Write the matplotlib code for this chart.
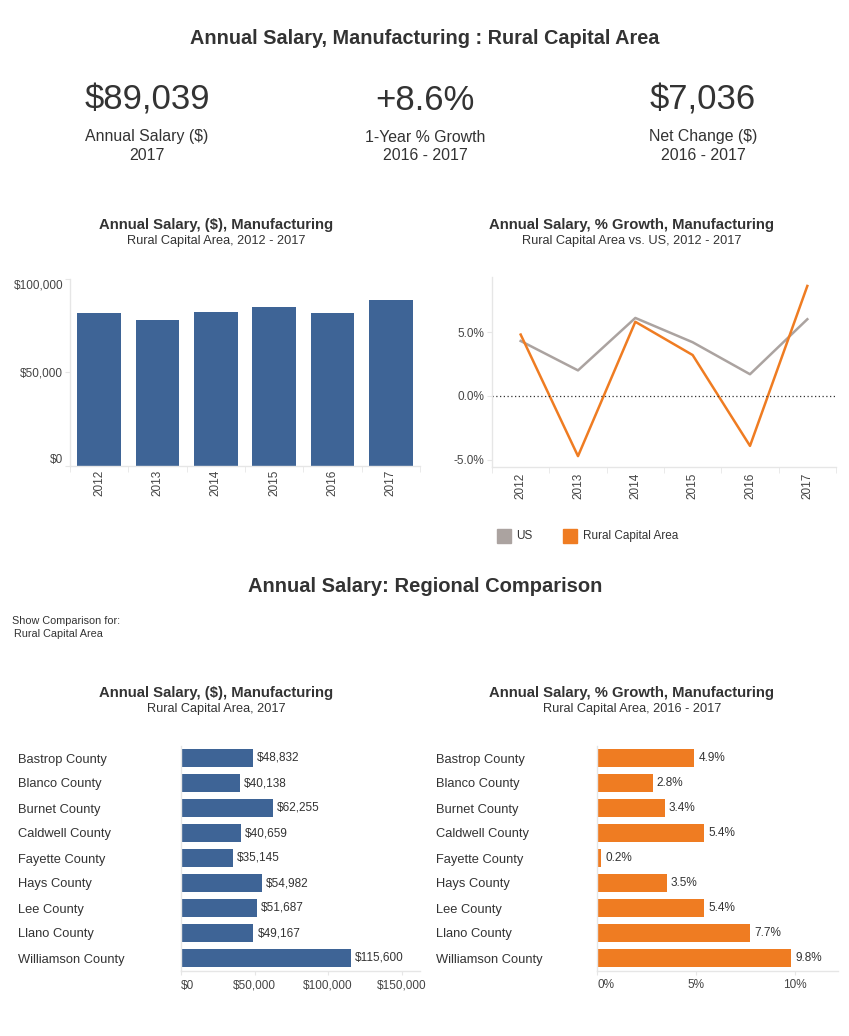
import matplotlib
matplotlib.use('Agg')
import matplotlib.pyplot as plt
from matplotlib.patches import Rectangle

W, H = 849, 1036
plt.rcParams['font.family'] = ['Liberation Sans', 'DejaVu Sans']

# ---------------- data ----------------
years = ['2012', '2013', '2014', '2015', '2016', '2017']
salary = [82006, 78152, 82685, 85331, 82003, 89039]
us_growth = [4.3, 2.0, 6.1, 4.2, 1.7, 6.0]
rca_growth = [4.8, -4.7, 5.8, 3.2, -3.9, 8.6]

counties = ['Bastrop County', 'Blanco County', 'Burnet County', 'Caldwell County',
            'Fayette County', 'Hays County', 'Lee County', 'Llano County',
            'Williamson County']
county_salary = [48832, 40138, 62255, 40659, 35145, 54982, 51687, 49167, 115600]
county_growth = [4.9, 2.8, 3.4, 5.4, 0.2, 3.5, 5.4, 7.7, 9.8]

kpi_values = ['$89,039', '+8.6%', '$7,036']
kpi_labels = ['Annual Salary ($)', '1-Year % Growth', 'Net Change ($)']
kpi_periods = ['2017', '2016 - 2017', '2016 - 2017']

salary_ticks = [0, 50000, 100000]
growth_ticks = [-5, 0, 5]
county_salary_ticks = [0, 50000, 100000, 150000]
county_growth_ticks = [0, 5, 10]

# ---------------- style ----------------
BLUE = '#3e6496'
ORANGE = '#ef7c22'
GRAY = '#aba3a0'
TXT = '#333333'
TICK = '#444444'
SPINE = '#e6e6e6'
PX = 72 / 100  # points per pixel

fig = plt.figure(figsize=(W / 100, H / 100), dpi=100)

overlay = fig.add_axes([0, 0, 1, 1])
overlay.set_xlim(0, W)
overlay.set_ylim(H, 0)
overlay.axis('off')
overlay.set_facecolor('none')


def add_ax(x0, y0, x1, y1):
    return fig.add_axes([x0 / W, 1 - y1 / H, (x1 - x0) / W, (y1 - y0) / H])


def style(ax):
    for s in ['top', 'right']:
        ax.spines[s].set_visible(False)
    for s in ['left', 'bottom']:
        ax.spines[s].set_color(SPINE)
        ax.spines[s].set_linewidth(1.0)
    ax.tick_params(colors=SPINE, labelcolor=TICK, labelsize=8.5)


# ---------------- titles / KPIs ----------------
overlay.text(425, 38, 'Annual Salary, Manufacturing : Rural Capital Area', ha='center',
             va='center', fontsize=14.3, fontweight='bold', color=TXT)
kpi_x = [147, 425, 703]
for xk, v, l, p in zip(kpi_x, kpi_values, kpi_labels, kpi_periods):
    overlay.text(xk, 100, v, ha='center', va='center', fontsize=25, color=TXT)
    overlay.text(xk, 137, l, ha='center', va='center', fontsize=11.4, color=TXT)
    overlay.text(xk, 155, p, ha='center', va='center', fontsize=11.4, color=TXT)


def chart_title(xc, y, title, sub):
    overlay.text(xc, y, title, ha='center', va='center', fontsize=10.7,
                 fontweight='bold', color=TXT)
    overlay.text(xc, y + 16, sub, ha='center', va='center', fontsize=9.2, color=TXT)


chart_title(216, 225, 'Annual Salary, ($), Manufacturing', 'Rural Capital Area, 2012 - 2017')
chart_title(632, 225, 'Annual Salary, % Growth, Manufacturing',
            'Rural Capital Area vs. US, 2012 - 2017')

# ---------------- top bar chart ----------------
ax1 = add_ax(70, 279.3, 420, 465.7)
style(ax1)
xs = list(range(len(years)))
ax1.bar(xs, salary, width=0.75, color=BLUE)
ax1.set_xlim(-0.5, 5.5)
ax1.set_ylim(0, 100000)
ax1.set_yticks(salary_ticks, ['${:,.0f}'.format(t) for t in salary_ticks])
ylabs = ax1.get_yticklabels()
ylabs[0].set_va('bottom')
ylabs[-1].set_va('top')
ax1.set_xticks(xs, years, rotation=90, va='top')
ax1.set_xticks([i - 0.5 for i in range(7)], minor=True)
ax1.tick_params(axis='x', which='major', length=0, pad=3)
ax1.tick_params(axis='x', which='minor', length=4, color=SPINE)
ax1.tick_params(axis='y', length=5 * PX, pad=2 * PX)

# ---------------- line chart ----------------
ax2 = add_ax(492, 277, 836, 467)
style(ax2)
ax2.plot(xs, us_growth, color=GRAY, lw=1.8)
ax2.plot(xs, rca_growth, color=ORANGE, lw=1.8)
ax2.axhline(0, color='#333333', lw=0.9, ls=(0, (1, 2)))
ax2.set_xlim(-0.5, 5.5)
ax2.set_ylim(-5.55, 9.3)
ax2.set_yticks(growth_ticks, ['{:.1f}%'.format(t) for t in growth_ticks])
ax2.set_xticks(xs, years, rotation=90, va='top')
ax2.set_xticks([i - 0.5 for i in range(7)], minor=True)
ax2.tick_params(axis='x', which='major', length=0, pad=4)
ax2.tick_params(axis='x', which='minor', length=4, color=SPINE)
ax2.tick_params(axis='y', length=5 * PX, pad=3 * PX)

# legend
overlay.add_patch(Rectangle((497, 529), 14, 14, color=GRAY))
overlay.text(516, 536, 'US', va='center', ha='left', fontsize=8.5, color=TXT)
overlay.add_patch(Rectangle((563, 529), 14, 14, color=ORANGE))
overlay.text(583, 536, 'Rural Capital Area', va='center', ha='left', fontsize=8.5, color=TXT)

# ---------------- regional comparison ----------------
overlay.text(425, 586, 'Annual Salary: Regional Comparison', ha='center', va='center',
             fontsize=14.5, fontweight='bold', color=TXT)
overlay.text(12, 621, 'Show Comparison for:', ha='left', va='center', fontsize=7.8, color=TXT)
overlay.text(14, 634, 'Rural Capital Area', ha='left', va='center', fontsize=7.8, color=TXT)

chart_title(216, 693, 'Annual Salary, ($), Manufacturing', 'Rural Capital Area, 2017')
chart_title(632, 693, 'Annual Salary, % Growth, Manufacturing', 'Rural Capital Area, 2016 - 2017')

rows = list(range(len(counties)))

ax3 = add_ax(181, 745.5, 420, 970.5)
style(ax3)
ax3.barh(rows, county_salary, height=0.73, color=BLUE)
ax3.set_ylim(8.5, -0.5)
ax3.set_xlim(0, 162500)
ax3.set_yticks(rows, counties, ha='left', color=TXT, fontsize=9.3)
ax3.tick_params(axis='y', length=0, pad=(181 - 18) * PX)
ax3.set_xticks(county_salary_ticks, ['${:,.0f}'.format(t) for t in county_salary_ticks])
ax3.get_xticklabels()[0].set_ha('left')
ax3.tick_params(axis='x', length=4 * PX, pad=5 * PX)
for i, v in enumerate(county_salary):
    ax3.annotate('${:,.0f}'.format(v), (v, i), xytext=(3, 0), textcoords='offset points',
                 va='center', ha='left', fontsize=8.5, color=TXT)

ax4 = add_ax(597.3, 745.5, 838, 970.5)
style(ax4)
ax4.barh(rows, county_growth, height=0.73, color=ORANGE)
ax4.set_ylim(8.5, -0.5)
ax4.set_xlim(0, 12.16)
ax4.set_yticks(rows, counties, ha='left', color=TXT, fontsize=9.3)
ax4.tick_params(axis='y', length=0, pad=(597.3 - 436) * PX)
ax4.set_xticks(county_growth_ticks, ['{:.0f}%'.format(t) for t in county_growth_ticks])
ax4.get_xticklabels()[0].set_ha('left')
ax4.tick_params(axis='x', length=4 * PX, pad=5 * PX)
for i, v in enumerate(county_growth):
    ax4.annotate('{:.1f}%'.format(v), (v, i), xytext=(3, 0), textcoords='offset points',
                 va='center', ha='left', fontsize=8.5, color=TXT)

fig.savefig('out.png', dpi=100)
